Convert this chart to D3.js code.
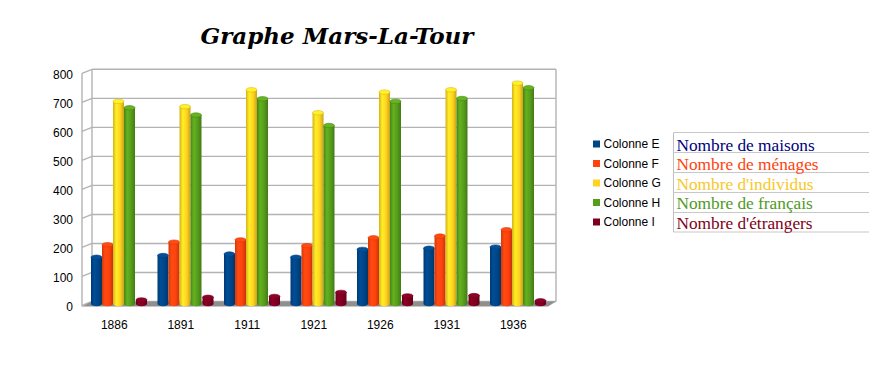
<!DOCTYPE html>
<html><head><meta charset="utf-8">
<script src="https://cdn.jsdelivr.net/npm/d3@7"></script>
<style>body{margin:0;background:#fff}svg{display:block}</style>
</head><body>
<svg id="c" width="869" height="373"></svg>
<script>
const years = ["1886","1891","1911","1921","1926","1931","1936"];
const seriesNames = ["Colonne E","Colonne F","Colonne G","Colonne H","Colonne I"];
const colE = [160,166,171,160,187,191,195];
const colF = [203,212,220,200,227,233,255];
const colG = [697,679,737,658,729,737,760];
const colH = [675,650,706,614,697,707,744];
const colI = [13,22,25,39,27,28,10];
const yTicks = [0,100,200,300,400,500,600,700,800];
const tableLabels = ["Nombre de maisons","Nombre de ménages","Nombre d'individus","Nombre de français","Nombre d'étrangers"];
const seriesColors = ["#004586","#ff420e","#ffd320","#579d1c","#7e0021"];
const tableColors = ["#000080","#ff420e","#f7c82a","#4f9a25","#800020"];
const series = [colE,colF,colG,colH,colI];

const svg = d3.select("#c");
const defs = svg.append("defs");
seriesColors.forEach((c,i)=>{
  const g = defs.append("linearGradient").attr("id","g"+i).attr("x1","0").attr("x2","1").attr("y1","0").attr("y2","0");
  const base = d3.color(c);
  g.append("stop").attr("offset","0%").attr("stop-color",base.darker(0.5));
  g.append("stop").attr("offset","30%").attr("stop-color",base.brighter(0.35));
  g.append("stop").attr("offset","65%").attr("stop-color",base);
  g.append("stop").attr("offset","100%").attr("stop-color",base.darker(0.7));
});

const dx = 10, dy = 4;
const x = d3.scaleBand().domain(years).range([82, 547.5]);
const yBack = d3.scaleLinear().domain([0,800]).range([301.5, 69.3]);
const left = 82, right = 546;

// title
const title = svg.append("text").attr("x",337).attr("y",44).attr("text-anchor","middle")
  .attr("font-family","DejaVu Serif").attr("font-weight","bold").attr("font-style","italic")
  .attr("font-size",22).attr("fill","#000").text("Graphe Mars-La-Tour");
title.attr("textLength",273).attr("lengthAdjust","spacingAndGlyphs");

const grid = svg.append("g").attr("stroke","#b3b3b3").attr("stroke-width",1.4).attr("fill","none");
yTicks.forEach(v=>{
  grid.append("line").attr("x1",left+dx).attr("x2",right+dx).attr("y1",yBack(v)).attr("y2",yBack(v));
  grid.append("line").attr("x1",left).attr("x2",left+dx).attr("y1",yBack(v)+dy).attr("y2",yBack(v));
});
grid.append("line").attr("x1",left+dx).attr("x2",left+dx).attr("y1",yBack(800)).attr("y2",yBack(0));
grid.append("line").attr("x1",right+dx).attr("x2",right+dx).attr("y1",yBack(800)).attr("y2",yBack(0));
grid.append("line").attr("x1",left).attr("x2",left).attr("y1",yBack(800)+dy).attr("y2",yBack(0)+dy+1);

// floor
svg.append("polygon").attr("points",[[left,yBack(0)+dy+1],[right+2,yBack(0)+dy+1],[right+dx,yBack(0)],[left+dx,yBack(0)]].map(p=>p.join(",")).join(" "))
  .attr("fill","#8f8f8f");

// y labels
svg.append("g").selectAll("text").data(yTicks).join("text")
  .attr("x",73).attr("y",v=>yBack(v)+dy+1).attr("dy","0.35em").attr("text-anchor","end")
  .attr("font-family","Liberation Sans, Arial").attr("font-size",12).attr("fill","#000").text(d=>d);

// x labels
svg.append("g").selectAll("text").data(years).join("text")
  .attr("x",d=>x(d)+x.bandwidth()/2-1).attr("y",325).attr("dy","0.35em").attr("text-anchor","middle")
  .attr("font-family","Liberation Sans, Arial").attr("font-size",12).attr("fill","#000").text(d=>d);

// bars
const bw = 11, ry = 2.2, bottom = 304;
const bars = svg.append("g");
years.forEach((yr,j)=>{
  series.forEach((s,i)=>{
    const x0 = x(yr)+9+i*bw + (i===4?1:0);
    const top = yBack(s[j]) + ry;
    const g = bars.append("g");
    g.append("path").attr("d",`M${x0},${top} L${x0},${bottom} A${bw/2},${ry} 0 0 0 ${x0+bw},${bottom} L${x0+bw},${top} Z`)
      .attr("fill",`url(#g${i})`);
    g.append("ellipse").attr("cx",x0+bw/2).attr("cy",top).attr("rx",bw/2).attr("ry",ry)
      .attr("fill",d3.color(seriesColors[i]).brighter(0.4)).attr("stroke",d3.color(seriesColors[i]).darker(0.4)).attr("stroke-width",0.6);
  });
});

// legend
const rowY = [144,163.5,183,202.5,222];
const leg = svg.append("g");
seriesNames.forEach((n,i)=>{
  leg.append("rect").attr("x",593).attr("y",rowY[i]-3.5).attr("width",7).attr("height",7).attr("fill",seriesColors[i]);
  leg.append("text").attr("x",603.5).attr("y",rowY[i]).attr("dy","0.35em").attr("font-family","Liberation Sans, Arial")
    .attr("font-size",12).attr("fill","#000").text(n);
});

// table
const tbl = svg.append("g");
const lineYs = [132.5,152.5,172.5,192.5,212.5,232];
tbl.append("line").attr("x1",673.5).attr("x2",673.5).attr("y1",lineYs[0]).attr("y2",lineYs[5]).attr("stroke","#c0c0c0");
lineYs.forEach(v=>tbl.append("line").attr("x1",673.5).attr("x2",869).attr("y1",v).attr("y2",v).attr("stroke","#c8c8c8"));
tableLabels.forEach((t,i)=>{
  tbl.append("text").attr("x",676.5).attr("y",rowY[i]+0.5).attr("dy","0.35em")
    .attr("font-family","Liberation Serif, Times New Roman").attr("font-size",17.3).attr("fill",tableColors[i]).text(t);
});
</script>
</body></html>
